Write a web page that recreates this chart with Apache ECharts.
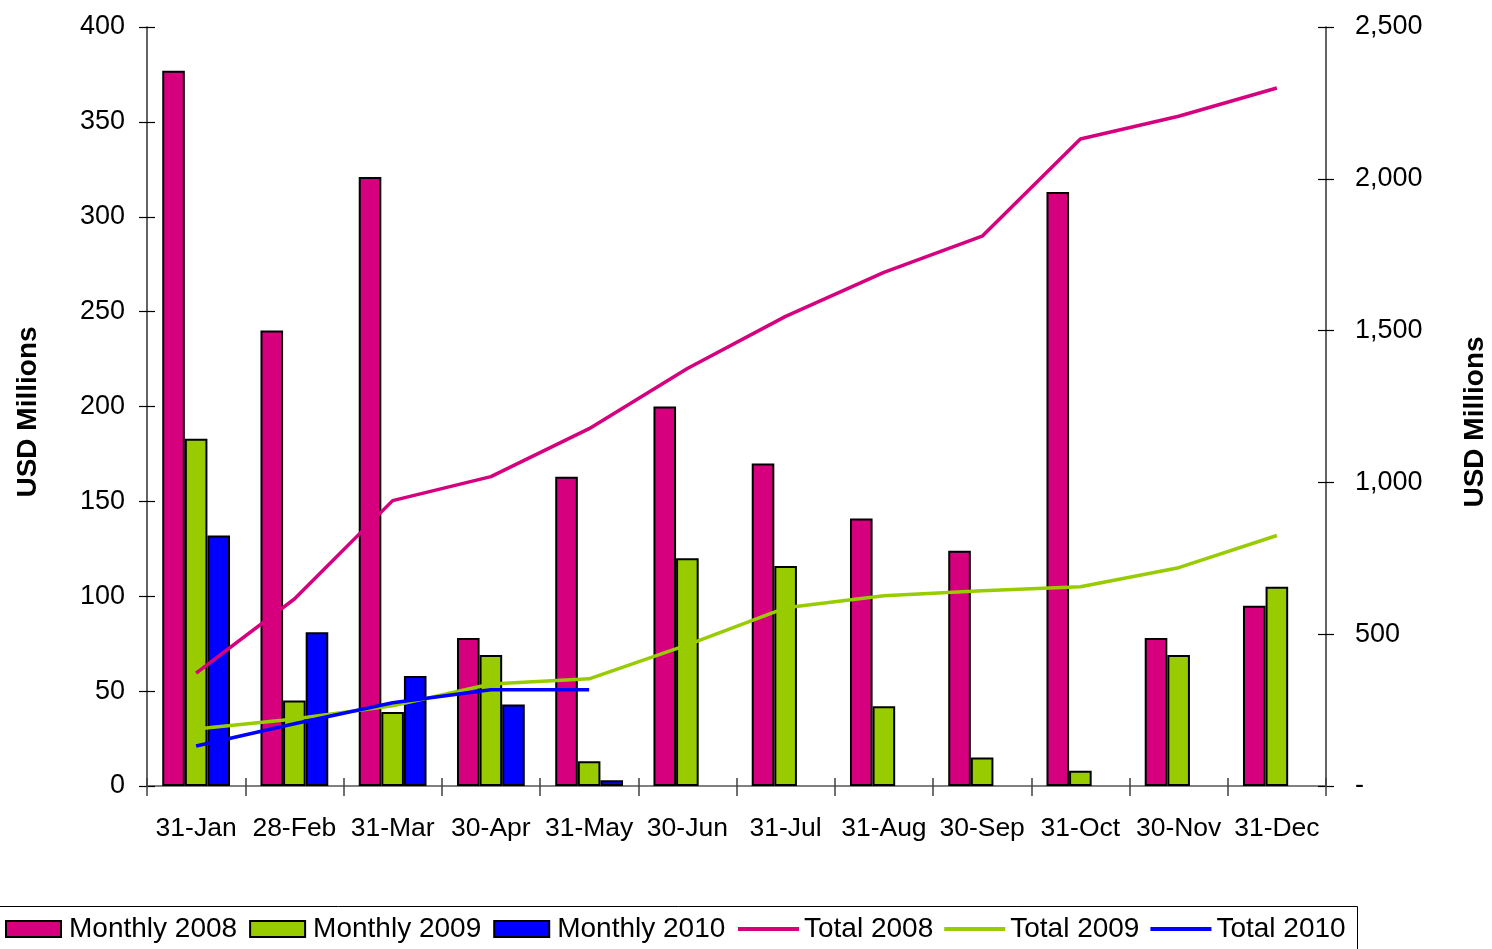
<!DOCTYPE html>
<html>
<head>
<meta charset="utf-8">
<script src="https://cdn.jsdelivr.net/npm/echarts@6/dist/echarts.min.js"></script>
<style>
html,body{margin:0;padding:0;background:#fff;}
#chart{width:1492px;height:949px;}
</style>
</head>
<body>
<div id="chart"></div>
<script>
const months = ['31-Jan','28-Feb','31-Mar','30-Apr','31-May','30-Jun','31-Jul','31-Aug','30-Sep','31-Oct','30-Nov','31-Dec'];
const monthly2008 = [377, 240, 321, 78, 163, 200, 170, 141, 124, 313, 78, 95];
const monthly2009 = [183, 45, 39, 69, 13, 120, 116, 42, 15, 8, 69, 105];
const monthly2010 = [132, 81, 58, 43, 3, null, null, null, null, null, null, null];
const total2008 = [372, 616, 940, 1019, 1177, 1375, 1547, 1692, 1811, 2131, 2206, 2299];
const total2009 = [188, 221, 264, 336, 353, 465, 587, 627, 643, 656, 719, 825];
const total2010 = [132, 205, 274, 317, 317];
const leftTicks = {min: 0, max: 400, interval: 50};
const rightTicks = {min: 0, max: 2500, interval: 500};

const PINK = '#D6007E', GREEN = '#99CC00', BLUE = '#0000FF';
const FONT = 'Liberation Sans, Arial, sans-serif';
const chart = echarts.init(document.getElementById('chart'));

const barStyle = c => ({color: c, borderColor: '#000', borderWidth: 2});
const lineSeries = (name, data, c) => ({
  name, type: 'line', yAxisIndex: 1, data, symbol: 'none', showSymbol: false,
  lineStyle: {color: c, width: 3.5}, itemStyle: {color: c}, z: 5, animation: false
});

chart.setOption({
  animation: false,
  grid: {left: 147, right: 166, top: 27, bottom: 163, containLabel: false},
  xAxis: [
    {type: 'category', data: months, position: 'bottom',
     axisLine: {lineStyle: {color: '#404040', width: 1.5}},
     axisTick: {show: true, length: 10, lineStyle: {color: '#404040', width: 1.5}, alignWithLabel: false},
     axisLabel: {color: '#000', fontSize: 26.5, fontFamily: FONT, margin: 29, interval: 0},
     splitLine: {show: false}},
    {type: 'category', data: months, position: 'bottom',
     axisLine: {show: false},
     axisTick: {show: true, inside: true, length: 8, lineStyle: {color: '#404040', width: 1.5}},
     axisLabel: {show: false}, splitLine: {show: false}},
    {type: 'category', data: months, position: 'top',
     axisLine: {show: true, lineStyle: {color: '#808080', width: 2}},
     axisTick: {show: false}, axisLabel: {show: false}, splitLine: {show: false}}
  ],
  yAxis: [
    {type: 'value', position: 'left', min: leftTicks.min, max: leftTicks.max, interval: leftTicks.interval,
     axisLine: {show: true, lineStyle: {color: '#303030', width: 1.5}},
     axisTick: {show: true, length: 8, lineStyle: {color: '#000', width: 1.2}},
     axisLabel: {color: '#000', fontSize: 27, fontFamily: FONT, margin: 22},
     splitLine: {show: false}},
    {type: 'value', position: 'right', min: rightTicks.min, max: rightTicks.max, interval: rightTicks.interval,
     axisLine: {show: true, lineStyle: {color: '#303030', width: 1.5}},
     axisTick: {show: true, length: 8, lineStyle: {color: '#000', width: 1.2}},
     axisLabel: {color: '#000', fontSize: 27, fontFamily: FONT, margin: 29,
       formatter: v => v === 0 ? '-' : v.toLocaleString('en-US')},
     splitLine: {show: false}},
    {type: 'value', position: 'left', min: leftTicks.min, max: leftTicks.max, interval: leftTicks.interval,
     axisLine: {show: false},
     axisTick: {show: true, inside: true, length: 8, lineStyle: {color: '#000', width: 1.2}},
     axisLabel: {show: false}, splitLine: {show: false}},
    {type: 'value', position: 'right', min: rightTicks.min, max: rightTicks.max, interval: rightTicks.interval,
     axisLine: {show: false},
     axisTick: {show: true, inside: true, length: 8, lineStyle: {color: '#000', width: 1.2}},
     axisLabel: {show: false}, splitLine: {show: false}}
  ],
  legend: [
    {data: ['Monthly 2008', 'Monthly 2009', 'Monthly 2010'], left: 5, top: 915, padding: 0,
     icon: 'rect', itemWidth: 55, itemHeight: 16, itemGap: 12,
     textStyle: {color: '#000', fontSize: 28, fontFamily: FONT, padding: [0, 0, 0, 3]}},
    {data: ['Total 2008', 'Total 2009', 'Total 2010'], left: 738, top: 915, padding: 0,
     icon: 'rect', itemWidth: 61, itemHeight: 4, itemGap: 11,
     textStyle: {color: '#000', fontSize: 28, fontFamily: FONT}}
  ],
  graphic: [
    {type: 'rect', left: -10, top: 904, shape: {width: 1365, height: 70},
     style: {fill: 'none', stroke: '#000', lineWidth: 1}, silent: true},
    {type: 'text', x: 28, y: 412, rotation: Math.PI / 2,
     style: {text: 'USD Millions', fill: '#000', font: 'bold 28px ' + FONT, align: 'center', verticalAlign: 'middle'}},
    {type: 'text', x: 1475, y: 422, rotation: Math.PI / 2,
     style: {text: 'USD Millions', fill: '#000', font: 'bold 28px ' + FONT, align: 'center', verticalAlign: 'middle'}}
  ],
  series: [
    {name: 'Monthly 2008', type: 'bar', data: monthly2008, itemStyle: barStyle(PINK), barGap: '0%', barCategoryGap: '31%'},
    {name: 'Monthly 2009', type: 'bar', data: monthly2009, itemStyle: barStyle(GREEN), barGap: '0%', barCategoryGap: '31%'},
    {name: 'Monthly 2010', type: 'bar', data: monthly2010, itemStyle: barStyle(BLUE), barGap: '0%', barCategoryGap: '31%'},
    lineSeries('Total 2008', total2008, PINK),
    lineSeries('Total 2009', total2009, GREEN),
    lineSeries('Total 2010', total2010, BLUE)
  ]
});
</script>
</body>
</html>
